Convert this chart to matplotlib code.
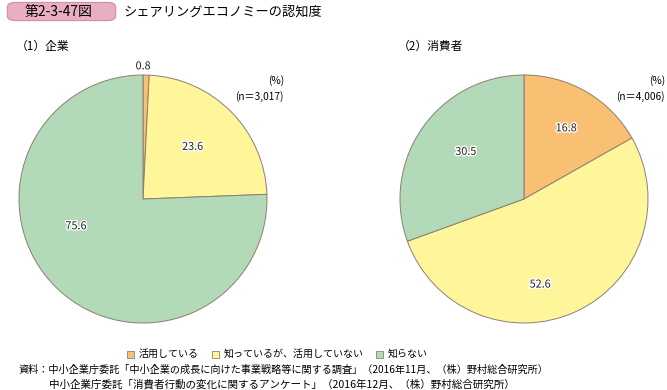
import matplotlib
matplotlib.use("Agg")
import matplotlib.pyplot as plt
import matplotlib.patheffects as pe
from matplotlib.patches import FancyBboxPatch, Rectangle

plt.rcParams['font.family'] = ['Noto Sans CJK JP', 'DejaVu Sans']

legend_labels = ['活用している', '知っているが、活用していない', '知らない']
colors = ['#F9BF72', '#FFF69C', '#B2D9B8']

company_values = [0.8, 23.6, 75.6]
consumer_values = [16.8, 52.6, 30.5]
company_n = '(n＝3,017)'
consumer_n = '(n＝4,006)'

W, H = 667, 390
fig = plt.figure(figsize=(W / 100, H / 100), dpi=100)


def px(x, y):
    return x / W, 1 - y / H


def draw_pie(cx, cy, r, values, label_pos):
    ax = fig.add_axes([(cx - r) / W, 1 - (cy + r) / H, 2 * r / W, 2 * r / H])
    ax.pie(values, colors=colors, startangle=90, counterclock=False,
           wedgeprops=dict(edgecolor='#8c7f72', linewidth=0.7))
    ax.set_xlim(-1, 1)
    ax.set_ylim(-1, 1)
    ax.set_aspect('equal')
    for v, (lx, ly) in zip(values, label_pos):
        ax.text(lx, ly, f'{v:.1f}', ha='center', va='center', fontsize=7.8,
                color='#222222', clip_on=False,
                path_effects=[pe.withStroke(linewidth=2, foreground='white')])
    ax.axis('off')
    return ax


draw_pie(143, 199, 124, company_values,
         [(0.0, 1.07), (0.40, 0.42), (-0.54, -0.22)])
draw_pie(524, 199, 124, consumer_values,
         [(0.34, 0.57), (0.13, -0.69), (-0.47, 0.38)])

# header
box = FancyBboxPatch(px(10, 19), 103 / W, 15 / H, transform=fig.transFigure,
                     boxstyle='round,pad=0.004,rounding_size=0.012',
                     facecolor='#E8AEC3', edgecolor='#D58AA6', linewidth=0.8)
fig.patches.append(box)
fig.text(*px(59, 12), '第2-3-47図', ha='center', va='center', fontsize=10)
fig.text(*px(124, 12), 'シェアリングエコノミーの認知度', ha='left', va='center',
         fontsize=9.5)

fig.text(*px(16, 46), '（1）企業', ha='left', va='center', fontsize=8.5)
fig.text(*px(398, 46), '（2）消費者', ha='left', va='center', fontsize=8.5)

fig.text(*px(284, 81), '(%)', ha='right', va='center', fontsize=7.3)
fig.text(*px(284, 97), company_n, ha='right', va='center', fontsize=7.3)
fig.text(*px(665, 81), '(%)', ha='right', va='center', fontsize=7.3)
fig.text(*px(665, 97), consumer_n, ha='right', va='center', fontsize=7.3)

# legend
legend_x = [127, 212, 376]
for x, c, lab in zip(legend_x, colors, legend_labels):
    fig.patches.append(Rectangle(px(x, 358), 7 / W, 7 / H,
                                 transform=fig.transFigure, facecolor=c,
                                 edgecolor='#8c7f72', linewidth=0.6))
    fig.text(*px(x + 12, 354), lab, ha='left', va='center', fontsize=7.2)

fig.text(*px(18, 370), '資料：中小企業庁委託「中小企業の成長に向けた事業戦略等に関する調査」（2016年11月、（株）野村総合研究所）',
         ha='left', va='center', fontsize=7.3)
fig.text(*px(49, 384), '中小企業庁委託「消費者行動の変化に関するアンケート」（2016年12月、（株）野村総合研究所）',
         ha='left', va='center', fontsize=7.6)

fig.savefig('out.png', dpi=100)
